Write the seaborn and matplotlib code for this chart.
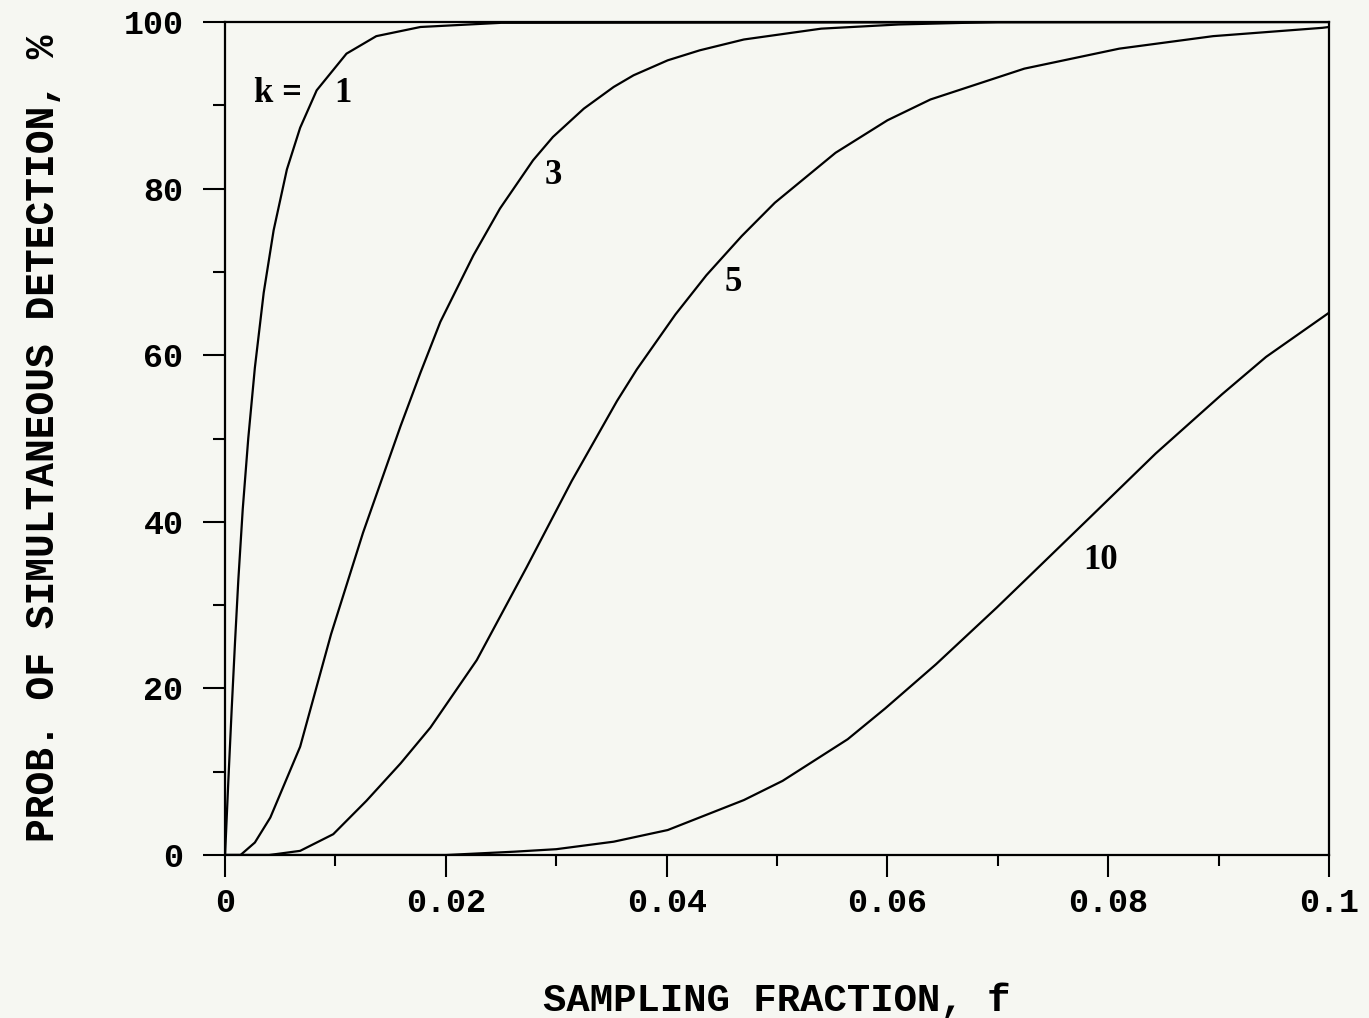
import matplotlib
matplotlib.use('Agg')
import matplotlib.pyplot as plt
import numpy as np
import pandas as pd
import seaborn as sns
from matplotlib.ticker import MultipleLocator

# values
f_k1 = [0.0, 0.0003, 0.0006, 0.0009, 0.0012, 0.0016, 0.0021, 0.0027, 0.0035, 0.0044,
        0.0056, 0.0068, 0.0083, 0.0110, 0.0137, 0.0177, 0.0250, 0.1000]
p_k1 = [0.0, 9.0, 17.5, 25.5, 33.0, 41.5, 50.0, 58.5, 67.5, 75.0,
        82.3, 87.3, 91.8, 96.2, 98.3, 99.4, 99.9, 100.0]

f_k3 = [0.0, 0.0014, 0.0027, 0.0041, 0.0068, 0.0096, 0.0125, 0.0159, 0.0177, 0.0195,
        0.0225, 0.0249, 0.0279, 0.0297, 0.0325, 0.0352, 0.0370, 0.0401, 0.0430,
        0.0470, 0.0540, 0.0610, 0.0700, 0.1000]
p_k3 = [0.0, 0.0, 1.5, 4.5, 13.0, 26.5, 38.7, 51.5, 57.9, 64.0,
        72.0, 77.6, 83.4, 86.2, 89.6, 92.2, 93.6, 95.4, 96.6,
        97.9, 99.2, 99.7, 100.0, 100.0]

f_k5 = [0.0, 0.0040, 0.0068, 0.0098, 0.0128, 0.0159, 0.0186, 0.0228, 0.0273, 0.0314,
        0.0355, 0.0373, 0.0408, 0.0436, 0.0468, 0.0498, 0.0553, 0.0600, 0.0639,
        0.0724, 0.0810, 0.0895, 0.0994, 0.1000]
p_k5 = [0.0, 0.0, 0.5, 2.5, 6.5, 11.0, 15.3, 23.4, 34.5, 44.9,
        54.5, 58.3, 64.9, 69.6, 74.3, 78.3, 84.3, 88.2, 90.7,
        94.4, 96.8, 98.3, 99.3, 99.4]

f_k10 = [0.0, 0.0200, 0.0262, 0.0300, 0.0352, 0.0401, 0.0470, 0.0505, 0.0564, 0.0598,
         0.0644, 0.0699, 0.0724, 0.0784, 0.0843, 0.0903, 0.0943, 0.1000]
p_k10 = [0.0, 0.0, 0.4, 0.7, 1.6, 3.0, 6.6, 8.9, 13.9, 17.6,
         22.9, 29.7, 32.9, 40.6, 48.2, 55.3, 59.8, 65.1]

curves = {1: (f_k1, p_k1), 3: (f_k3, p_k3), 5: (f_k5, p_k5), 10: (f_k10, p_k10)}

x_ticks = [0, 0.02, 0.04, 0.06, 0.08, 0.1]
x_tick_labels = ['0', '0.02', '0.04', '0.06', '0.08', '0.1']
y_ticks = [0, 20, 40, 60, 80, 100]

sns.set_theme(style='ticks')
plt.rcParams['font.family'] = ['Liberation Mono', 'DejaVu Sans']

bg = '#f6f7f2'
fig = plt.figure(figsize=(13.69, 10.18), dpi=100, facecolor=bg)
ax = fig.add_axes([0.1644, 0.1601, 0.8064, 0.8183])
ax.set_facecolor(bg)

for k, (fx, py) in curves.items():
    df = pd.DataFrame({'f': fx, 'p': py})
    sns.lineplot(data=df, x='f', y='p', ax=ax, color='black', linewidth=1.6,
                 estimator=None, sort=False)

ax.set_xlim(0, 0.1)
ax.set_ylim(0, 100)
ax.set_xticks(x_ticks)
ax.set_xticklabels(x_tick_labels)
ax.set_yticks(y_ticks)
ax.xaxis.set_minor_locator(MultipleLocator(0.01))
ax.yaxis.set_minor_locator(MultipleLocator(10))

ax.tick_params(axis='both', which='major', direction='out', length=16, width=1.5,
               labelsize=24, color='black', labelcolor='black')
ax.tick_params(axis='x', which='major', pad=8)
ax.tick_params(axis='y', which='major', pad=14)
ax.tick_params(axis='x', which='minor', direction='out', length=8, width=1.5, color='black')
ax.tick_params(axis='y', which='minor', direction='out', length=9, width=1.5, color='black')
for t in ax.get_xticklabels() + ax.get_yticklabels():
    t.set_fontweight('bold')

for s in ax.spines.values():
    s.set_visible(True)
    s.set_linewidth(1.6)
    s.set_color('black')

ax.set_xlabel('SAMPLING FRACTION, f', fontsize=28, labelpad=46, color='black',
              fontweight='bold')
ax.set_ylabel('PROB. OF SIMULTANEOUS DETECTION, %', fontsize=28.5, labelpad=44,
              color='black', fontweight='bold')

lab = dict(fontsize=25, family=['Liberation Serif', 'DejaVu Serif'], color='black',
           ha='center', va='center', fontweight='bold')
ax.text(0.0048, 91.4, 'k =', **lab)
ax.text(0.0107, 91.4, '1', **lab)
ax.text(0.0297, 81.6, '3', **lab)
ax.text(0.0460, 68.7, '5', **lab)
ax.text(0.0793, 35.4, '10', **lab)

fig.savefig('out.png', dpi=100, facecolor=bg)
